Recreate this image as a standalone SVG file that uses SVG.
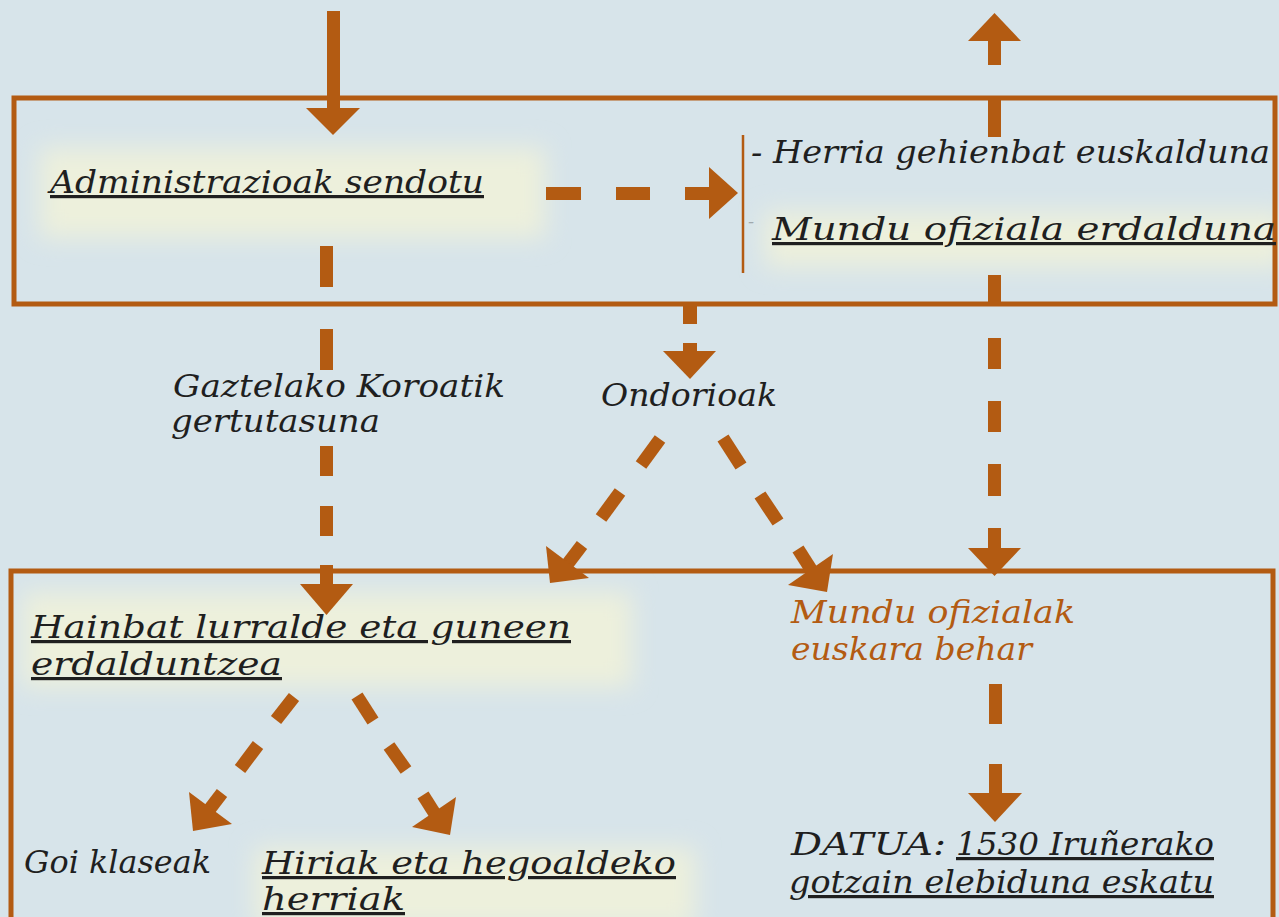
<svg xmlns="http://www.w3.org/2000/svg" width="1279" height="917" viewBox="0 0 1279 917">
<defs>
<filter id="glow" x="-20%" y="-50%" width="140%" height="200%"><feGaussianBlur stdDeviation="12"/></filter>
<style>
.bg{fill:#d7e4ea}
.glow{fill:#edf0dc;filter:url(#glow)}
.box{fill:none;stroke:#b35b12;stroke-width:5}
.c{fill:#b35b12;stroke:none}
.d{stroke:#b35b12;stroke-width:13;fill:none;stroke-linecap:butt}
.t{font-family:"DejaVu Serif","Liberation Serif",serif;font-style:italic;font-size:32px;fill:#1f1f1f}
.o{fill:#b35b12}
.u{text-decoration:underline}
</style>
</defs>
<rect class="bg" x="0" y="0" width="1279" height="917"/>
<g id="glows">
<rect class="glow" x="40" y="148" width="505" height="90"/>
<rect class="glow" x="765" y="212" width="520" height="55"/>
<rect class="glow" x="22" y="592" width="610" height="95"/>
<rect class="glow" x="255" y="848" width="440" height="80"/>
</g>
<g id="box-top"><rect class="box" x="14" y="98" width="1261" height="206"/></g>
<g id="box-bottom"><rect class="box" x="11" y="571" width="1262" height="400"/></g>
<g id="connectors">
<g id="c-in-top"><rect class="c" x="327" y="11" width="13" height="97"/><polygon class="c" points="306,108 360,108 333,135"/></g>
<g id="c-admin-herria"><rect class="c" x="546" y="187" width="35" height="13"/><rect class="c" x="616" y="187" width="34" height="13"/><rect class="c" x="685" y="187" width="25" height="13"/><polygon class="c" points="709,167 709,219 738,193"/></g>
<line id="c-bracket" x1="743" y1="135" x2="743" y2="273" stroke="#b35b12" stroke-width="2.5"/>
<g id="c-admin-hainbat"><rect class="c" x="320" y="246" width="13" height="41"/><rect class="c" x="320" y="329" width="13" height="41"/><rect class="c" x="320" y="446" width="13" height="30"/><rect class="c" x="320" y="506" width="13" height="30"/><rect class="c" x="320" y="565" width="13" height="20"/><polygon class="c" points="300,584 353,584 326.5,615"/></g>
<g id="c-box-ondorioak"><rect class="c" x="683" y="304" width="14" height="20"/><rect class="c" x="683" y="343" width="14" height="9"/><polygon class="c" points="663,351 716,351 690,379"/></g>
<g id="c-ondorioak-hainbat"><line class="d" x1="660" y1="439" x2="641" y2="465"/><line class="d" x1="620" y1="492" x2="601" y2="518"/><line class="d" x1="582" y1="545" x2="566" y2="566"/><polygon class="c" points="550,583 546,546 589,578"/></g>
<g id="c-ondorioak-mundu"><line class="d" x1="723" y1="438" x2="741" y2="466"/><line class="d" x1="760" y1="495" x2="778" y2="522"/><line class="d" x1="798" y1="549" x2="812" y2="571"/><polygon class="c" points="827,592 788,585 833,554"/></g>
<g id="c-right-column"><polygon class="c" points="968,41 1021,41 994.5,13"/><rect class="c" x="988" y="40" width="13" height="25"/><rect class="c" x="988" y="100" width="13" height="37"/><rect class="c" x="988" y="275" width="13" height="28"/><rect class="c" x="988" y="338" width="13" height="31"/><rect class="c" x="988" y="401" width="13" height="31"/><rect class="c" x="988" y="464" width="13" height="32"/><rect class="c" x="988" y="528" width="13" height="21"/><polygon class="c" points="968,548 1021,548 994.5,576"/></g>
<g id="c-mundu-datua"><rect class="c" x="989" y="684" width="13" height="40"/><rect class="c" x="989" y="764" width="13" height="30"/><polygon class="c" points="968,793 1022,793 995,822"/></g>
<g id="c-hainbat-goi"><line class="d" x1="294" y1="697" x2="276" y2="720"/><line class="d" x1="258" y1="745" x2="240" y2="769"/><line class="d" x1="222" y1="793" x2="209" y2="810"/><polygon class="c" points="193,831 189,792 232,824"/></g>
<g id="c-hainbat-hiriak"><line class="d" x1="357" y1="696" x2="373" y2="721"/><line class="d" x1="389" y1="746" x2="406" y2="770"/><line class="d" x1="423" y1="795" x2="435" y2="814"/><polygon class="c" points="450,835 412,827 456,797"/></g>
</g>
<g id="n-admin"><text class="t u" x="50" y="193" textLength="434" lengthAdjust="spacingAndGlyphs">Administrazioak sendotu</text></g>
<g id="n-herria">
<text class="t" x="751" y="163" textLength="519" lengthAdjust="spacingAndGlyphs">- Herria gehienbat euskalduna</text>
<text class="t" x="748" y="228" style="font-size:18px;fill:#a0a8ac">-</text>
<text class="t u" x="772" y="240" textLength="504" lengthAdjust="spacingAndGlyphs">Mundu ofiziala erdalduna</text>
</g>
<g id="n-gaztela">
<text class="t" x="173" y="397" textLength="332" lengthAdjust="spacingAndGlyphs">Gaztelako Koroatik</text>
<text class="t" x="171" y="432" textLength="209" lengthAdjust="spacingAndGlyphs">gertutasuna</text>
</g>
<g id="n-ondorioak"><text class="t" x="601" y="406" textLength="176" lengthAdjust="spacingAndGlyphs">Ondorioak</text></g>
<g id="n-hainbat">
<text class="t u" x="31" y="638" textLength="540" lengthAdjust="spacingAndGlyphs">Hainbat lurralde eta guneen</text>
<text class="t u" x="31" y="675" textLength="251" lengthAdjust="spacingAndGlyphs">erdalduntzea</text>
</g>
<g id="n-mundu-ofizialak">
<text class="t o" x="791" y="623" textLength="284" lengthAdjust="spacingAndGlyphs">Mundu ofizialak</text>
<text class="t o" x="791" y="660" textLength="241" lengthAdjust="spacingAndGlyphs">euskara behar</text>
</g>
<g id="n-goi"><text class="t" x="24" y="873" textLength="187" lengthAdjust="spacingAndGlyphs">Goi klaseak</text></g>
<g id="n-hiriak">
<text class="t u" x="262" y="874" textLength="414" lengthAdjust="spacingAndGlyphs">Hiriak eta hegoaldeko</text>
<text class="t u" x="262" y="910" textLength="143" lengthAdjust="spacingAndGlyphs">herriak</text>
</g>
<g id="n-datua">
<text class="t" x="791" y="855" textLength="155" lengthAdjust="spacingAndGlyphs">DATUA:</text>
<text class="t u" x="956" y="855" textLength="258" lengthAdjust="spacingAndGlyphs">1530 Iruñerako</text>
<text class="t u" x="789" y="893" textLength="425" lengthAdjust="spacingAndGlyphs">gotzain elebiduna eskatu</text>
</g>
</svg>
